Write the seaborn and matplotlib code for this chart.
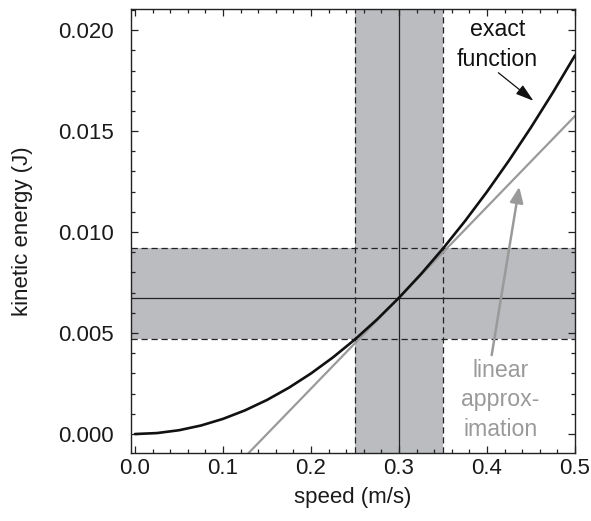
import matplotlib
matplotlib.use("Agg")
import matplotlib.pyplot as plt
from matplotlib.ticker import MultipleLocator
import seaborn as sns
import pandas as pd

# exact function (kinetic energy vs speed)
speed = [0.0, 0.025, 0.05, 0.075, 0.1, 0.125, 0.15, 0.175, 0.2, 0.225, 0.25,
         0.275, 0.3, 0.325, 0.35, 0.375, 0.4, 0.425, 0.45, 0.475, 0.5]
energy = [0.0, 0.0000469, 0.0001875, 0.000422, 0.00075, 0.001172, 0.0016875,
          0.002297, 0.003, 0.003797, 0.0046875, 0.005672, 0.00675, 0.007922,
          0.0091875, 0.010547, 0.012, 0.013547, 0.0151875, 0.016922, 0.01875]
# linear approximation (tangent at 0.3 m/s)
lin_speed = [0.10, 0.5]
lin_energy = [-0.00225, 0.01575]
# center point and uncertainty bands
v0 = 0.3
e0 = 0.00675
v_band = [0.25, 0.35]
e_band = [0.0046875, 0.0091875]

sns.set_style("ticks")
plt.rcParams['font.family'] = ['Liberation Sans', 'DejaVu Sans']

fig = plt.figure(figsize=(5.91, 5.21), dpi=100)
ax = fig.add_axes([0.2217, 0.1305, 0.7513, 0.852])

band_col = "#bbbcc0"
dark = "#222222"
gray = "#9a9a9a"
ax.axvspan(v_band[0], v_band[1], color=band_col, lw=0, zorder=0)
ax.axhspan(e_band[0], e_band[1], color=band_col, lw=0, zorder=0)
for v in v_band:
    ax.axvline(v, color=dark, lw=0.9, ls=(0, (5, 3)), zorder=1)
for e in e_band:
    ax.axhline(e, color=dark, lw=0.9, ls=(0, (5, 3)), zorder=1)
ax.axvline(v0, color=dark, lw=0.9, zorder=1)
ax.axhline(e0, color=dark, lw=0.9, zorder=1)

df = pd.DataFrame({"speed": speed, "energy": energy})
dfl = pd.DataFrame({"speed": lin_speed, "energy": lin_energy})
sns.lineplot(data=df, x="speed", y="energy", ax=ax, color="#111111", lw=1.9,
             zorder=3, sort=False)
sns.lineplot(data=dfl, x="speed", y="energy", ax=ax, color=gray, lw=1.6,
             zorder=2, sort=False)

ax.set_xlim(-0.0045, 0.5)
ax.set_ylim(-0.00094, 0.02104)
ax.xaxis.set_major_locator(MultipleLocator(0.1))
ax.xaxis.set_minor_locator(MultipleLocator(0.02))
ax.yaxis.set_major_locator(MultipleLocator(0.005))
ax.yaxis.set_minor_locator(MultipleLocator(0.001))
ax.xaxis.set_major_formatter(plt.FormatStrFormatter("%.1f"))
ax.yaxis.set_major_formatter(plt.FormatStrFormatter("%.3f"))
ax.tick_params(which="both", direction="in", top=True, right=True,
               color=dark, width=0.9, labelsize=16, labelcolor="#1a1a1a")
ax.tick_params(which="major", length=5)
ax.tick_params(which="minor", length=3)
ax.tick_params(axis="x", which="major", pad=3.5)
ax.tick_params(axis="y", which="major", pad=12.5)
for s in ax.spines.values():
    s.set_linewidth(1.0)
    s.set_color(dark)
    s.set_visible(True)

ax.set_xlabel("speed (m/s)", fontsize=16, labelpad=6, color="#1a1a1a")
ax.set_ylabel("kinetic energy (J)", fontsize=16, labelpad=18, color="#1a1a1a")

ax.text(0.412, 0.0206, "exact\nfunction", ha="center", va="top",
        fontsize=16.7, color="#111111", linespacing=1.4)
ax.annotate("", xy=(0.4527, 0.0165), xytext=(0.4129, 0.01789),
            arrowprops=dict(arrowstyle="-|>,head_length=0.55,head_width=0.17",
                            color="#111111", lw=0.9, mutation_scale=20,
                            shrinkA=0, shrinkB=0))
ax.text(0.415, 0.00372, "linear\napprox-\nimation", ha="center", va="top",
        fontsize=16.7, color=gray, linespacing=1.36)
ax.annotate("", xy=(0.4366, 0.01224), xytext=(0.4053, 0.00391),
            arrowprops=dict(arrowstyle="-|>,head_length=0.47,head_width=0.2",
                            color=gray, lw=1.8, mutation_scale=20,
                            shrinkA=0, shrinkB=0))

fig.savefig("out.png", dpi=100)
